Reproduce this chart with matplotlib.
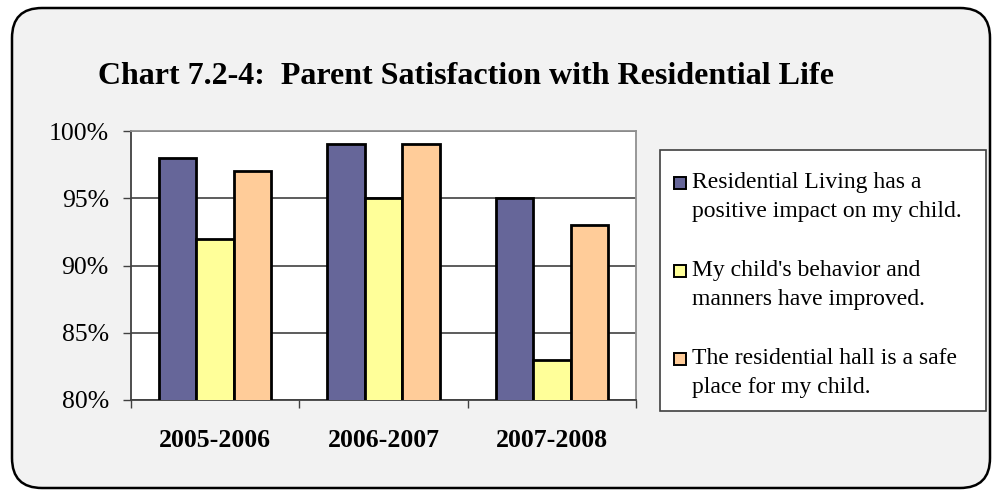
import numpy as np
from matplotlib import pyplot as plt
from matplotlib.patches import FancyBboxPatch, Rectangle
from matplotlib.transforms import IdentityTransform
from matplotlib.ticker import FixedLocator, FuncFormatter

years = ["2005-2006", "2006-2007", "2007-2008"]
positive = [98, 99, 95]
behavior = [92, 95, 83]
safe = [97, 99, 93]

labels = ["Residential Living has a\npositive impact on my child.",
          "My child's behavior and\nmanners have improved.",
          "The residential hall is a safe\nplace for my child."]
colors = ["#666699", "#FFFF99", "#FFCC99"]

plt.rcParams['font.family'] = ['Liberation Serif', 'DejaVu Serif']

W, H = 997, 491
fig = plt.figure(figsize=(W / 100, H / 100), dpi=100, facecolor='white')

# rounded grey frame
frame = FancyBboxPatch((12, 3), 978, 480, boxstyle="round,pad=0,rounding_size=30",
                       transform=IdentityTransform(), facecolor='#F2F2F2',
                       edgecolor='black', linewidth=1.8, zorder=-5)
fig.patches.append(frame)

fig.text(466 / W, 1 - 84 / H, "Chart 7.2-4:  Parent Satisfaction with Residential Life",
         ha='center', va='baseline', fontsize=23, fontweight='bold')

ax = fig.add_axes([131 / W, 1 - 400 / H, (636 - 131) / W, (400 - 131) / H])
ax.set_zorder(2)
ax.set_facecolor('white')

x = np.arange(len(years))
w = 0.222
for i, (vals, c) in enumerate(zip([positive, behavior, safe], colors)):
    ax.bar(x + (i - 1) * w, vals, w, color=c, edgecolor='black', linewidth=2, zorder=3)

ax.set_ylim(80, 100)
ax.set_xlim(-0.5, len(years) - 0.5)
ax.set_yticks([80, 85, 90, 95, 100])
ax.yaxis.set_major_formatter(FuncFormatter(lambda v, p: f"{v:.0f}%"))
ax.yaxis.grid(True, color='#303030', linewidth=1.1, zorder=1)
ax.set_axisbelow(True)

ax.set_xticks(x)
ax.set_xticklabels(years, fontweight='bold', fontsize=18.5)
ax.xaxis.set_minor_locator(FixedLocator(np.arange(-0.5, len(years), 1.0)))
ax.tick_params(axis='x', which='major', length=0, pad=21)
ax.tick_params(axis='x', which='minor', length=6, width=1, color='#404040', direction='out')
ax.tick_params(axis='y', length=6, width=1, color='#404040', pad=10, labelsize=18.5)

for s in ['left', 'bottom']:
    ax.spines[s].set_color('#404040')
    ax.spines[s].set_linewidth(1.3)
for s in ['top', 'right']:
    ax.spines[s].set_color('#909090')
    ax.spines[s].set_linewidth(1.3)

# legend box
lx0, ly0, lx1, ly1 = 660, 150, 986, 411
fig.patches.append(Rectangle((lx0, H - ly1), lx1 - lx0, ly1 - ly0, transform=IdentityTransform(),
                             facecolor='white', edgecolor='#404040', linewidth=1.2, zorder=1))
for i, (lab, c) in enumerate(zip(labels, colors)):
    top = 177 + i * 88
    fig.patches.append(Rectangle((674, H - top - 12), 12, 12, transform=IdentityTransform(),
                                 facecolor=c, edgecolor='black', linewidth=1.4, zorder=2))
    fig.text(692 / W, 1 - (172 + i * 88) / H, lab, ha='left', va='top',
             fontsize=17, linespacing=1.5, zorder=3)

fig.savefig("out.png", dpi=100, facecolor=fig.get_facecolor())
